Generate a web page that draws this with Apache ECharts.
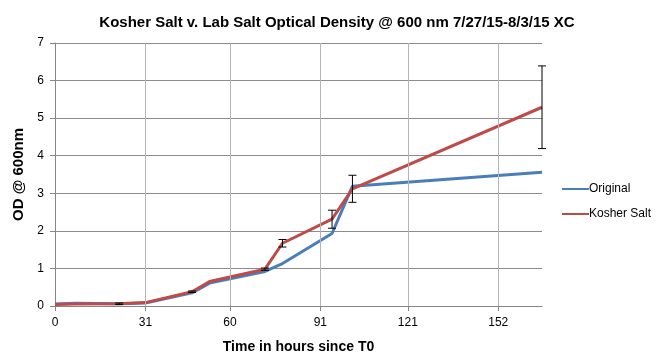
<!DOCTYPE html>
<html>
<head>
<meta charset="utf-8">
<script src="https://cdn.jsdelivr.net/npm/echarts@6/dist/echarts.min.js"></script>
<style>html,body{margin:0;padding:0;background:#fff}#c{width:660px;height:364px}</style>
</head>
<body>
<div id="c"></div>
<script>
var hours = [0, 7, 22, 31, 47, 53, 72, 78, 95, 102, 167];
var original = [0.05, 0.07, 0.06, 0.08, 0.35, 0.61, 0.92, 1.13, 1.93, 3.19, 3.56];
var kosher = [0.04, 0.05, 0.06, 0.09, 0.38, 0.65, 0.98, 1.67, 2.31, 3.12, 5.29];
var kosherErr = [0, 0, 0.02, 0, 0.02, 0, 0.03, 0.1, 0.24, 0.36, 1.1];
var xTicks = [0, 31, 60, 91, 121, 152];
var seriesNames = ['Original', 'Kosher Salt'];

var font = '"Liberation Sans", Arial, sans-serif';
function pairs(ys) { return hours.map(function (h, i) { return [h, ys[i]]; }); }
var errData = hours.map(function (h, i) { return [h, kosher[i] - kosherErr[i], kosher[i] + kosherErr[i]]; })
  .filter(function (d, i) { return kosherErr[i] > 0; });

var chart = echarts.init(document.getElementById('c'));
chart.setOption({
  animation: false,
  title: {
    text: 'Kosher Salt v. Lab Salt Optical Density @ 600 nm 7/27/15-8/3/15 XC',
    left: 332, top: 10, textAlign: 'center',
    textStyle: { fontFamily: font, fontSize: 15, fontWeight: 'bold', color: '#000' }
  },
  legend: {
    orient: 'vertical', left: 557, top: 178, itemGap: 13,
    itemWidth: 27, itemHeight: 10,
    data: [
      { name: 'Original', icon: 'path://M0,4 L27,4 L27,6 L0,6 Z' },
      { name: 'Kosher Salt', icon: 'path://M0,4 L27,4 L27,6 L0,6 Z' }
    ],
    textStyle: { fontFamily: font, fontSize: 12, color: '#000', padding: [0, 0, 0, -5] }
  },
  grid: { left: 55, right: 118, top: 43, bottom: 58 },
  xAxis: {
    type: 'value', min: 0, max: 167,
    name: 'Time in hours since T0', nameLocation: 'middle', nameGap: 34,
    nameTextStyle: { fontFamily: font, fontSize: 14, fontWeight: 'bold', color: '#000' },
    axisLine: { lineStyle: { color: '#868686', width: 1 } },
    axisTick: { show: true, length: 5, lineStyle: { color: '#868686' }, customValues: xTicks },
    axisLabel: { customValues: xTicks, fontFamily: font, fontSize: 12, color: '#000', margin: 11 },
    splitLine: { show: false }
  },
  yAxis: {
    type: 'value', min: 0, max: 7, interval: 1,
    name: 'OD @ 600nm', nameLocation: 'middle', nameGap: 24,
    nameTextStyle: { fontFamily: font, fontSize: 15, fontWeight: 'bold', color: '#000' },
    axisLine: { show: true, lineStyle: { color: '#868686' } },
    axisTick: { show: true, length: 5, lineStyle: { color: '#868686' } },
    axisLabel: { fontFamily: font, fontSize: 12, color: '#000', margin: 11 },
    splitLine: { show: true, lineStyle: { color: '#8c8c8c', width: 1 } }
  },
  series: [
    {
      name: seriesNames[0], type: 'line', data: pairs(original), showSymbol: false, symbol: 'none',
      color: '#4a7ebb', lineStyle: { width: 3, color: '#4a7ebb' }, z: 3,
      markLine: {
        silent: true, symbol: 'none', label: { show: false },
        lineStyle: { color: '#b4b4b4', width: 1, type: 'solid' },
        data: xTicks.slice(1).map(function (v) { return { xAxis: v }; })
      }
    },
    {
      name: seriesNames[1], type: 'line', data: pairs(kosher), showSymbol: false, symbol: 'none',
      color: '#be4b48', lineStyle: { width: 3, color: '#be4b48' }, z: 4
    },
    {
      type: 'custom', name: 'err', data: errData, z: 5, silent: true,
      renderItem: function (params, api) {
        var lo = api.coord([api.value(0), api.value(1)]);
        var hi = api.coord([api.value(0), api.value(2)]);
        var w = 4;
        var st = { stroke: '#000', lineWidth: 1 };
        return { type: 'group', children: [
          { type: 'line', shape: { x1: lo[0], y1: lo[1], x2: hi[0], y2: hi[1] }, style: st },
          { type: 'line', shape: { x1: lo[0] - w, y1: lo[1], x2: lo[0] + w, y2: lo[1] }, style: st },
          { type: 'line', shape: { x1: hi[0] - w, y1: hi[1], x2: hi[0] + w, y2: hi[1] }, style: st }
        ] };
      }
    }
  ]
});
</script>
</body>
</html>
